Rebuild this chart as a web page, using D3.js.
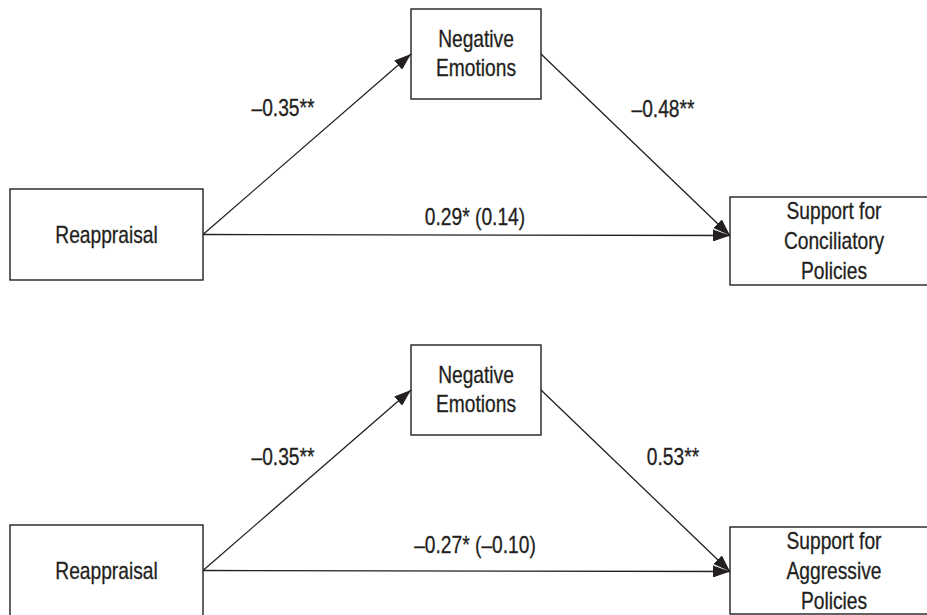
<!DOCTYPE html>
<html lang="en">
<head>
	<meta charset="utf-8">
	<style>
		body { margin: 0; background: #fff; }
		text { font-family: "Liberation Sans", Arial, sans-serif; fill: #231f20; stroke: #231f20; stroke-width: 0.3; }
	</style>
</head>
<body>

<script src="https://cdn.jsdelivr.net/npm/d3@7"></script>

<script type="text/javascript">
    "use strict";

    // model labels, one per panel
    var predictors = ["Reappraisal", "Reappraisal"];
    var mediators = [["Negative", "Emotions"], ["Negative", "Emotions"]];
    var outcomes = [["Support for", "Conciliatory", "Policies"], ["Support for", "Aggressive", "Policies"]];

    // path coefficients: a path, b path, c path (direct, in parens)
    var aPaths = ["\u20130.35**", "\u20130.35**"];
    var bPaths = ["\u20130.48**", "0.53**"];
    var cPaths = ["0.29* (0.14)", "\u20130.27* (\u20130.10)"];

    var W = 927, H = 615;

    var svg = d3.select("body").append("svg").attr("width", W).attr("height", H);

    svg.append("defs").append("marker")
      .attr("id", "head")
      .attr("viewBox", "0 0 17 12")
      .attr("refX", 17).attr("refY", 6)
      .attr("markerWidth", 17).attr("markerHeight", 12)
      .attr("markerUnits", "userSpaceOnUse")
      .attr("orient", "auto")
      .append("path").attr("d", "M0,0L17,6L0,12Z").attr("fill", "#231f20");

    // panel offsets (top of each panel)
    var panelY = d3.scaleOrdinal().domain([0, 1]).range([0, 336]);

    var boxX = { pred: [10, 203], med: [411, 541], out: [730, 940] };
    var boxY = { pred: [189, 280], med: [9, 99] };
    var outY = [[197, 285], [191, 278]];

    var ink = "#231f20";
    var fs = 24;
    var squeeze = 0.8;   // condensed face look

    // centred, horizontally condensed label
    function label(g, str, cx, y) {
      g.append("g")
        .attr("transform", "translate(" + cx + "," + y + ") scale(" + squeeze + ",1)")
        .append("text")
        .attr("text-anchor", "middle")
        .attr("font-size", fs)
        .text(str);
    }

    predictors.forEach(function(p, i) {
      var g = svg.append("g").attr("transform", "translate(0," + panelY(i) + ")");

      var by = { pred: boxY.pred, med: boxY.med, out: outY[i] };
      var predMidY = (by.pred[0] + by.pred[1]) / 2;
      var medMidY = (by.med[0] + by.med[1]) / 2;
      var outMidY = predMidY + 1;

      // boxes
      ["pred", "med", "out"].forEach(function(k) {
        g.append("rect")
          .attr("x", boxX[k][0]).attr("y", by[k][0])
          .attr("width", boxX[k][1] - boxX[k][0])
          .attr("height", by[k][1] - by[k][0])
          .attr("fill", "#fff").attr("stroke", ink).attr("stroke-width", 1.4);
      });

      // arrows
      var arrows = [
        [boxX.pred[1], predMidY, boxX.med[0], medMidY],
        [boxX.med[1], medMidY, boxX.out[0], outMidY],
        [boxX.pred[1], predMidY, boxX.out[0], outMidY]
      ];
      g.selectAll("line.path").data(arrows).enter().append("line")
        .attr("class", "path")
        .attr("x1", function(d) { return d[0]; })
        .attr("y1", function(d) { return d[1]; })
        .attr("x2", function(d) { return d[2]; })
        .attr("y2", function(d) { return d[3]; })
        .attr("stroke", ink).attr("stroke-width", 1.3)
        .attr("marker-end", "url(#head)");

      // box labels
      label(g, p, (boxX.pred[0] + boxX.pred[1]) / 2, 243);
      mediators[i].forEach(function(s, j) {
        label(g, s, (boxX.med[0] + boxX.med[1]) / 2, 47 + j * 29);
      });
      outcomes[i].forEach(function(s, j) {
        label(g, s, 834, by.out[0] + 22 + j * 30);
      });

      // coefficients
      label(g, aPaths[i], 283, i ? 129 : 116);
      label(g, bPaths[i], i ? 673 : 663, i ? 129 : 117);
      label(g, cPaths[i], 475, i ? 217 : 225);
    });

</script>

</body>
</html>
